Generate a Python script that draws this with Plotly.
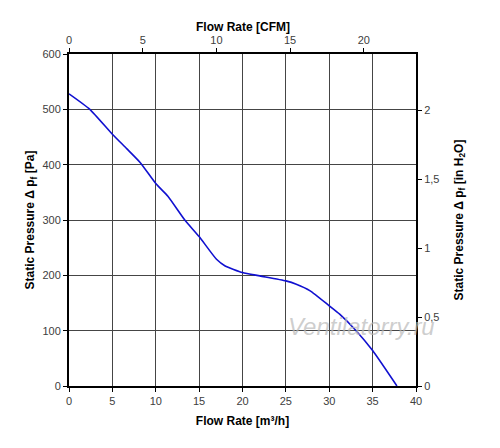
import plotly.graph_objects as go

# fan curve
flow_m3h = [0, 2.4, 5, 6.65, 8.2, 10, 11.4, 13.35, 15, 17, 18, 20, 22, 25,
            26.2, 27.8, 30, 31.2, 33.1, 35, 37.8]
pressure_pa = [528, 500, 455, 429, 404, 366, 343, 300, 270, 229, 217, 205,
               199, 190, 184, 172, 145, 130, 100, 64, 0]

M3H_PER_CFM = 1.699
PA_PER_INH2O = 249.089

flow_cfm = [q / M3H_PER_CFM for q in flow_m3h]
pressure_in = [p / PA_PER_INH2O for p in pressure_pa]

font = "Liberation Sans, Arial, sans-serif"
tick_font = dict(family=font, size=11, color="#404040")
title_font = dict(family=font, size=12, color="black")

fig = go.Figure()
fig.add_trace(go.Scatter(x=flow_m3h, y=pressure_pa, mode="lines",
                         line=dict(color="#1010d0", width=1.6,
                                   shape="spline", smoothing=0.5),
                         showlegend=False))
# invisible twin trace so the CFM / inH2O axes get drawn
fig.add_trace(go.Scatter(x=flow_cfm, y=pressure_in, mode="lines",
                         line=dict(color="rgba(0,0,0,0)", width=0),
                         xaxis="x2", yaxis="y2", hoverinfo="skip",
                         showlegend=False))

common = dict(zeroline=False, showline=True, linecolor="black", linewidth=2,
              ticks="outside", ticklen=4, tickcolor="black",
              tickfont=tick_font, automargin=False)

# page body adds 8px, so margins are 8px smaller on left/top
fig.update_layout(
    width=500, height=448,
    margin=dict(l=61, r=92, t=46, b=70),
    paper_bgcolor="white", plot_bgcolor="white",
    separators=",.",
    xaxis=dict(range=[0, 40], dtick=5, showgrid=True, gridcolor="#454545",
               gridwidth=1,
               title=dict(text="<b>Flow Rate [m³/h]</b>", font=title_font,
                          standoff=10), **common),
    xaxis2=dict(range=[0, 40 / M3H_PER_CFM], dtick=5, overlaying="x",
                side="top", showgrid=False, **common),
    yaxis=dict(range=[0, 600], dtick=100, showgrid=True, gridcolor="#454545",
               gridwidth=1,
               title=dict(text="<b>Static Pressure Δ p<sub>f</sub> [Pa]</b>",
                          font=title_font, standoff=5), **common),
    yaxis2=dict(range=[0, 600 / PA_PER_INH2O], dtick=0.5, overlaying="y",
                side="right", showgrid=False,
                title=dict(text="<b>Static Pressure Δ p<sub>f</sub> [in H<sub>2</sub>O]</b>",
                           font=title_font, standoff=16), **common),
)

# top axis title, placed by hand
fig.add_annotation(x=0.5, y=1.08, xref="paper", yref="paper",
                   text="<b>Flow Rate [CFM]</b>", showarrow=False,
                   xanchor="center", yanchor="middle", font=title_font)

# site watermark
fig.add_annotation(x=1.06, y=0.18, xref="paper", yref="paper",
                   text="<i>Ventilatorry.ru</i>", showarrow=False,
                   xanchor="right", yanchor="middle",
                   font=dict(family=font, size=24, color="rgba(185,185,185,0.7)"))

fig.write_html("out.html")
